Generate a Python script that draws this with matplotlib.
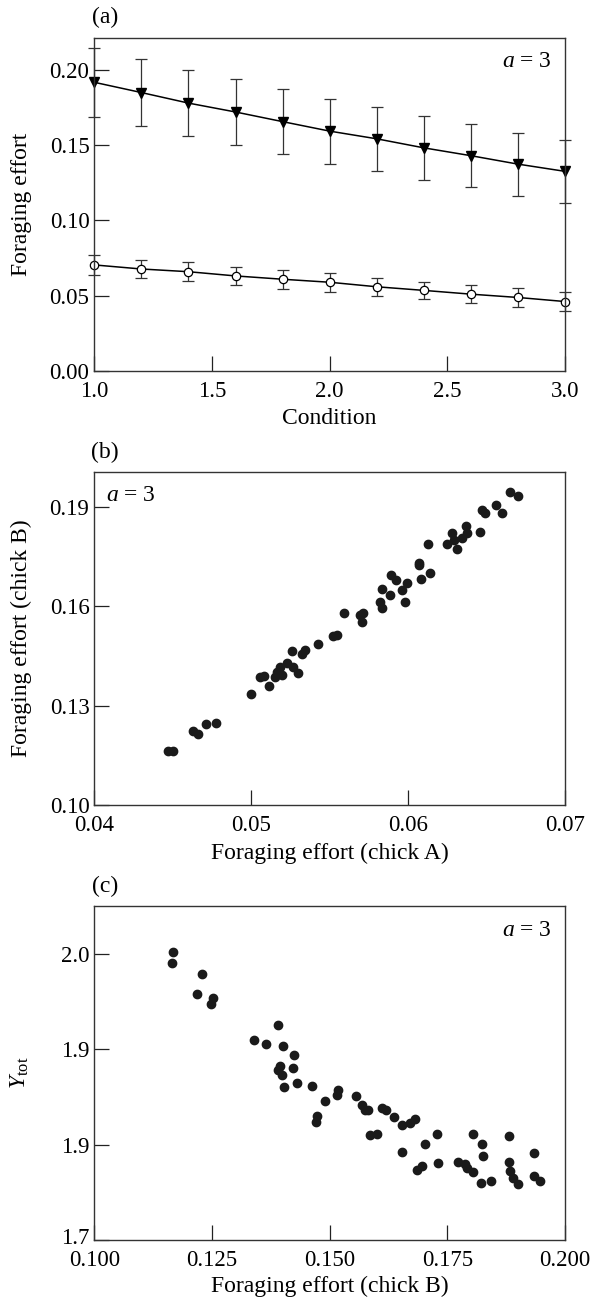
import numpy as np
import matplotlib
matplotlib.use('Agg')
import matplotlib.pyplot as plt
import matplotlib.transforms as mtransforms

plt.rcParams['font.family'] = ['Liberation Serif', 'DejaVu Serif']
plt.rcParams['mathtext.fontset'] = 'custom'
plt.rcParams['mathtext.rm'] = 'Liberation Serif'
plt.rcParams['mathtext.it'] = 'Liberation Serif:italic'

# (a) foraging effort vs condition
condition = [1.0, 1.2, 1.4, 1.6, 1.8, 2.0, 2.2, 2.4, 2.6, 2.8, 3.0]
effort_B = [0.1916, 0.1848, 0.1778, 0.1719, 0.1655, 0.1592, 0.1541, 0.1481, 0.1429, 0.1373, 0.1325]
err_B = [0.0229, 0.0221, 0.0218, 0.0216, 0.0216, 0.0216, 0.0213, 0.0212, 0.0209, 0.0209, 0.0209]
effort_A = [0.0704, 0.0677, 0.0659, 0.0631, 0.0609, 0.0589, 0.0559, 0.0535, 0.0510, 0.0488, 0.0461]
err_A = [0.0066, 0.0061, 0.0062, 0.0062, 0.0063, 0.0064, 0.0061, 0.0058, 0.0060, 0.0061, 0.0061]

# (b) chick A vs chick B
chickA = [0.04472, 0.04504, 0.04631, 0.04663, 0.0471, 0.04774, 0.04999, 0.05056, 0.05083, 0.05115,
          0.05152, 0.05162, 0.05183, 0.05194, 0.05226, 0.05268, 0.0530, 0.05258, 0.05326, 0.05343,
          0.05424, 0.05519, 0.05549, 0.05593, 0.05693, 0.0571, 0.05704, 0.05821, 0.05832, 0.05832,
          0.05885, 0.05889, 0.05923, 0.05959, 0.05995, 0.05982, 0.06069, 0.06072, 0.06082, 0.0614,
          0.06129, 0.06246, 0.06282, 0.06293, 0.06314, 0.06342, 0.06367, 0.06373, 0.06458, 0.06469,
          0.0649, 0.0656, 0.06596, 0.06649, 0.0670]
chickB = [0.11625, 0.11625, 0.12231, 0.1213, 0.12434, 0.12464, 0.13351, 0.13856, 0.13887, 0.13602,
          0.13856, 0.14026, 0.14177, 0.13926, 0.1428, 0.14177, 0.13977, 0.14652, 0.14552, 0.14683,
          0.14864, 0.15106, 0.15127, 0.15812, 0.15733, 0.15794, 0.1553, 0.16127, 0.15963, 0.1652,
          0.16348, 0.16953, 0.16802, 0.16499, 0.16701, 0.16145, 0.17325, 0.17245, 0.16832, 0.17005,
          0.1790, 0.17891, 0.18215, 0.18013, 0.17749, 0.18064, 0.18436, 0.18234, 0.18264, 0.18921,
          0.18839, 0.19059, 0.18821, 0.19475, 0.19344]

# (c) Y_tot vs chick B effort
effB_c = [0.11666, 0.11651, 0.12288, 0.12175, 0.12515, 0.12473, 0.1391, 0.13393, 0.13648, 0.14015,
          0.14243, 0.13945, 0.13896, 0.13981, 0.14215, 0.1430, 0.14036, 0.14632, 0.14738, 0.1471,
          0.14901, 0.15171, 0.15163, 0.1556, 0.15681, 0.15751, 0.15821, 0.16106, 0.16197, 0.16374,
          0.16531, 0.16707, 0.16813, 0.15857, 0.15999, 0.16543, 0.17026, 0.17287, 0.16849, 0.16955,
          0.17308, 0.17733, 0.17875, 0.17911, 0.18052, 0.18039, 0.1823, 0.18252, 0.18211, 0.18436,
          0.18817, 0.18802, 0.18834, 0.18897, 0.18995, 0.19342, 0.19342, 0.19479]
ytot = [2.0013, 1.9898, 1.979, 1.958, 1.9539, 1.9476, 1.9256, 1.9092, 1.9053, 1.9033,
        1.8942, 1.882, 1.8786, 1.8733, 1.8802, 1.865, 1.860, 1.8614, 1.830, 1.8237,
        1.8454, 1.8569, 1.8517, 1.8506, 1.8412, 1.8367, 1.836, 1.8384, 1.836, 1.829,
        1.821, 1.8227, 1.8273, 1.8098, 1.8116, 1.7917, 1.8004, 1.8116, 1.7732, 1.7777,
        1.7809, 1.7819, 1.7795, 1.775, 1.7714, 1.8116, 1.8001, 1.7879, 1.7593, 1.7617,
        1.8088, 1.7813, 1.7722, 1.7652, 1.7586, 1.7907, 1.7669, 1.762]

ytick_c = [1.7, 1.8, 1.9, 2.0]
ytick_c_labels = ['1.7', '1.9', '1.9', '2.0']

fig = plt.figure(figsize=(5.96, 12.98), dpi=100)
W, H = 596.0, 1298.0
left, right = 94.3, 565.0


def make_ax(top, bottom):
    ax = fig.add_axes([left / W, 1 - bottom / H, (right - left) / W, (bottom - top) / H])
    for s in ax.spines.values():
        s.set_color('#333333')
        s.set_linewidth(1.0)
    ax.tick_params(direction='in', length=11, width=0.9, color='#222222',
                   labelsize=16.5, top=False, right=False)
    ax.tick_params(axis='x', pad=7.5)
    ax.tick_params(axis='y', pad=3.5)
    return ax


lab = dict(fontsize=17)
dot = dict(ls='none', marker='o', ms=6, color='#1a1a1a', mec='#1a1a1a')

# panel (a)
ax1 = make_ax(38, 371)
ax1.errorbar(condition, effort_B, yerr=err_B, fmt='v-', color='black', ms=7,
             ecolor='#333333', elinewidth=0.9, capsize=4.5, capthick=0.9, lw=1.1, clip_on=False)
ax1.errorbar(condition, effort_A, yerr=err_A, fmt='o-', color='black', ms=6, mfc='white',
             mec='black', mew=0.9, ecolor='#333333', elinewidth=0.9, capsize=4.5, capthick=0.9,
             lw=1.1, clip_on=False)
ax1.set_xlim(1.0, 3.0)
ax1.set_ylim(0, 0.221)
ax1.set_xticks([1.0, 1.5, 2.0, 2.5, 3.0])
ax1.set_xticklabels(['1.0', '1.5', '2.0', '2.5', '3.0'])
ax1.set_yticks([0.0, 0.05, 0.10, 0.15, 0.20])
ax1.set_yticklabels(['0.00', '0.05', '0.10', '0.15', '0.20'])
ax1.set_xlabel('Condition', **lab)
ax1.set_ylabel('Foraging effort', **lab)
ax1.xaxis.set_label_coords(0.5, -0.11)
ax1.yaxis.set_label_coords(-0.133, 0.5)
ax1.text(0.972, 0.928, '$a$ = 3', transform=ax1.transAxes, ha='right', va='center', fontsize=17)
ax1.text(-0.005, 1.03, '(a)', transform=ax1.transAxes, ha='left', va='bottom', fontsize=17)

# panel (b)
ax2 = make_ax(472.3, 804.7)
ax2.plot(chickA, chickB, **dot)
ax2.set_xlim(0.04, 0.07)
ax2.set_ylim(0.10, 0.2006)
ax2.set_xticks([0.04, 0.05, 0.06, 0.07])
ax2.set_xticklabels(['0.04', '0.05', '0.06', '0.07'])
ax2.set_yticks([0.10, 0.13, 0.16, 0.19])
ax2.set_yticklabels(['0.10', '0.13', '0.16', '0.19'])
ax2.set_xlabel('Foraging effort (chick A)', **lab)
ax2.set_ylabel('Foraging effort (chick B)', **lab)
ax2.xaxis.set_label_coords(0.5, -0.115)
ax2.yaxis.set_label_coords(-0.133, 0.5)
ax2.text(0.024, 0.929, '$a$ = 3', transform=ax2.transAxes, ha='left', va='center', fontsize=17)
ax2.text(-0.008, 1.027, '(b)', transform=ax2.transAxes, ha='left', va='bottom', fontsize=17)

# panel (c)
ax3 = make_ax(906, 1240)
ax3.plot(effB_c, ytot, **dot)
ax3.set_xlim(0.100, 0.200)
ax3.set_ylim(1.7, 2.05)
ax3.set_xticks([0.100, 0.125, 0.150, 0.175, 0.200])
ax3.set_xticklabels(['0.100', '0.125', '0.150', '0.175', '0.200'])
ax3.set_yticks(ytick_c)
ax3.set_yticklabels(ytick_c_labels)
ax3.set_xlabel('Foraging effort (chick B)', **lab)
ax3.set_ylabel(r'$Y_{\mathrm{tot}}$', **lab)
ax3.xaxis.set_label_coords(0.5, -0.107)
ax3.yaxis.set_label_coords(-0.135, 0.5)
ax3.text(0.972, 0.926, '$a$ = 3', transform=ax3.transAxes, ha='right', va='center', fontsize=17)
ax3.text(-0.004, 1.027, '(c)', transform=ax3.transAxes, ha='left', va='bottom', fontsize=17)

# lift the bottom y label a touch so it clears the first x label
lift = mtransforms.ScaledTranslation(0, 3 / 72, fig.dpi_scale_trans)
lowest = ax3.get_yticklabels()[0]
lowest.set_transform(lowest.get_transform() + lift)

fig.savefig('out.png', dpi=100)
